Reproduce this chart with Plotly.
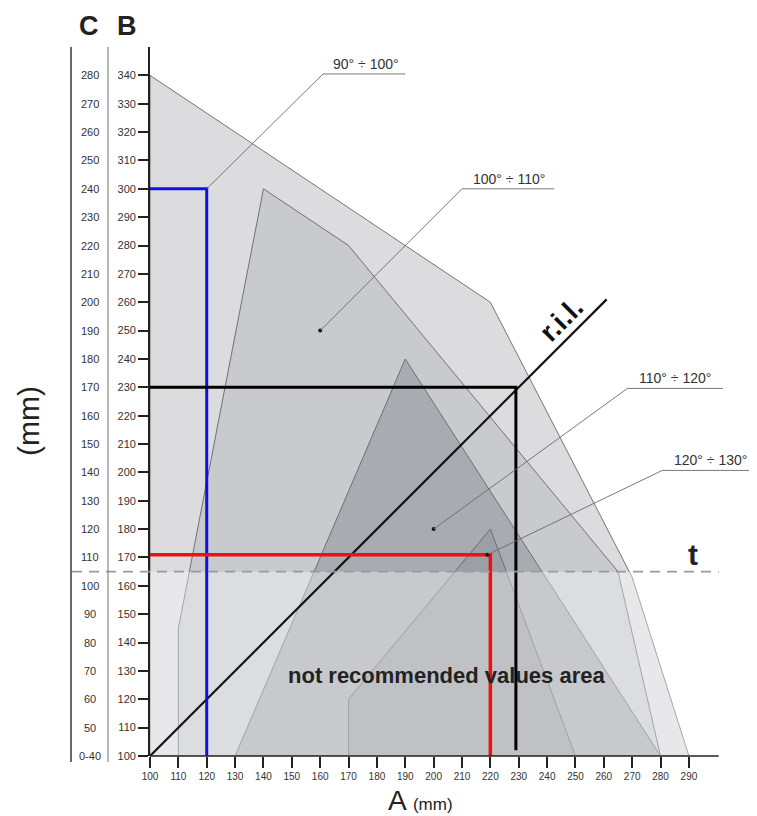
import plotly.graph_objects as go

# ---------------- data ----------------
A_ticks = list(range(100, 300, 10))
B_ticks = list(range(100, 350, 10))
C_labels = ["0-40"] + [str(v) for v in range(50, 290, 10)]

# zones (A, B)
z90_A = [100, 100, 220, 270, 290]
z90_B = [100, 340, 260, 163, 100]
z100_A = [110, 110, 140, 170, 265, 280]
z100_B = [100, 145, 300, 280, 165, 100]
z110_A = [130, 190, 280]
z110_B = [100, 240, 100]
z120_A = [170, 170, 220, 250]
z120_B = [100, 120, 180, 100]

zone_names = ["90° ÷ 100°", "100° ÷ 110°", "110° ÷ 120°", "120° ÷ 130°"]

t_B = 165
ril_A = [100, 261]
ril_B = [100, 261]

blue_A, blue_B = 120, 300
black_A, black_B = 229, 230
red_A, red_B = 220, 171

dot_A = [160, 200, 219]
dot_B = [250, 180, 171]

# ---------------- layout constants ----------------
OFF = 8                      # page body margin
W, H = 757 - OFF, 816 - OFF
PL, PR, PT, PB = 150, 757, 47, 756   # plot area in page pixels
ML, MR, MT, MB = PL - OFF, OFF + W - PR, PT - OFF, OFF + H - PB
XR = [100, 314]
YR = [100, 350]
FONT = "Liberation Sans, Arial, sans-serif"
pw = PR - PL
ph = PB - PT


def px_x(px):
    return (px - PL) / pw


def px_y(py):
    return (PB - py) / ph


def dx(a):
    return (a - XR[0]) / (XR[1] - XR[0])


def dy(b):
    return (b - YR[0]) / (YR[1] - YR[0])


fig = go.Figure()

fills = ["#dcdcdf", "#c9cace", "#a8abb1", "#9c9fa5"]
for (xa, yb), col in zip([(z90_A, z90_B), (z100_A, z100_B), (z110_A, z110_B), (z120_A, z120_B)], fills):
    fig.add_trace(go.Scatter(x=xa + [xa[0]], y=yb + [yb[0]], mode="lines", fill="toself",
                             fillcolor=col, line=dict(color="#666666", width=0.9),
                             hoverinfo="skip", showlegend=False))

# not recommended overlay (below t) - lightens the zones
fig.add_trace(go.Scatter(x=[XR[0], 300.5, 300.5, XR[0], XR[0]], y=[YR[0], YR[0], t_B, t_B, YR[0]],
                         mode="lines", fill="toself", fillcolor="rgba(255,255,255,0.36)",
                         line=dict(width=0), hoverinfo="skip", showlegend=False))

# r.i.l.
fig.add_trace(go.Scatter(x=ril_A, y=ril_B, mode="lines", line=dict(color="#111111", width=2.2),
                         hoverinfo="skip", showlegend=False))

# example reading lines
fig.add_trace(go.Scatter(x=[XR[0], blue_A, blue_A], y=[blue_B, blue_B, YR[0]], mode="lines",
                         line=dict(color="#1010e0", width=3), hoverinfo="skip", showlegend=False))
fig.add_trace(go.Scatter(x=[XR[0], black_A, black_A], y=[black_B, black_B, 102], mode="lines",
                         line=dict(color="#000000", width=3), hoverinfo="skip", showlegend=False))
fig.add_trace(go.Scatter(x=[XR[0], red_A, red_A], y=[red_B, red_B, YR[0]], mode="lines",
                         line=dict(color="#ee1111", width=3.5), hoverinfo="skip", showlegend=False))

fig.add_trace(go.Scatter(x=dot_A, y=dot_B, mode="markers", marker=dict(color="#111", size=4),
                         hoverinfo="skip", showlegend=False))

shapes = []
# x axis line
shapes.append(dict(type="line", xref="x", yref="paper", x0=100, x1=300.5, y0=0, y1=0,
                   line=dict(color="#222", width=1.6)))
# t dashed line
shapes.append(dict(type="line", xref="paper", yref="paper", x0=px_x(72), x1=dx(300.5),
                   y0=dy(t_B), y1=dy(t_B), line=dict(color="#9a9a9a", width=1.6, dash="10px,7px")))
# C column lines
shapes.append(dict(type="line", xref="paper", yref="paper", x0=px_x(71), x1=px_x(71),
                   y0=px_y(762), y1=1, line=dict(color="#444", width=1.6)))
shapes.append(dict(type="line", xref="paper", yref="paper", x0=px_x(108), x1=px_x(108),
                   y0=px_y(762), y1=1, line=dict(color="#888", width=1.2)))

# leaders: (start A,B) -> (elbow A,B) -> (end A), text centre A
leaders = [
    ((blue_A, blue_B), (161, 340.5), 190, 176),
    ((dot_A[0], dot_B[0]), (210, 300), 242.5, 226.5),
    ((dot_A[1], dot_B[1]), (268.3, 229.6), 302, 285),
    ((dot_A[2], dot_B[2]), (280.6, 200.7), 313.8, 297.5),
]
annotations = []
for (s, e, end, tx), name in zip(leaders, zone_names):
    shapes.append(dict(type="line", xref="x", yref="y", x0=s[0], y0=s[1], x1=e[0], y1=e[1],
                       line=dict(color="#6a6a6a", width=0.9)))
    shapes.append(dict(type="line", xref="x", yref="y", x0=e[0], y0=e[1], x1=end, y1=e[1],
                       line=dict(color="#6a6a6a", width=0.9)))
    annotations.append(dict(x=tx, y=e[1], xref="x", yref="y", text=name, showarrow=False,
                            xanchor="center", yanchor="bottom",
                            font=dict(family=FONT, size=14, color="#333")))

# C tick labels
for b, c in zip(B_ticks, C_labels):
    annotations.append(dict(x=px_x(89.5), y=b, xref="paper", yref="y", text=c, showarrow=False,
                            xanchor="center", yanchor="middle",
                            font=dict(family=FONT, size=11, color="#333")))


def label(x, y, text, size, angle=0, xref="paper", yref="paper", color="#222"):
    return dict(x=x, y=y, xref=xref, yref=yref, text=text, showarrow=False, textangle=angle,
                xanchor="center", yanchor="middle", font=dict(family=FONT, size=size, color=color))


annotations += [
    label(px_x(89), px_y(26), "<b>C</b>", 27),
    label(px_x(127), px_y(26), "<b>B</b>", 27),
    label(px_x(28), px_y(421), "(mm)", 30, angle=-90),
    label(px_x(420), px_y(801), "A <span style='font-size:17px'>(mm)</span>", 28),
    label(204.5, 128.5, "<b>not recommended values area</b>", 22, xref="x", yref="y"),
    label(291.6, 171, "<b>t</b>", 30, xref="x", yref="y"),
    label(245, 254, "<b>r.i.l.</b>", 28, angle=-45, xref="x", yref="y", color="#111"),
]

fig.update_layout(
    width=W, height=H,
    margin=dict(l=ML, r=MR, t=MT, b=MB),
    paper_bgcolor="white", plot_bgcolor="white",
    showlegend=False,
    shapes=shapes,
    annotations=annotations,
    xaxis=dict(range=XR, tickvals=A_ticks, ticktext=[str(v) for v in A_ticks],
               ticks="outside", ticklen=11, tickwidth=1.5, tickcolor="#222",
               showgrid=False, zeroline=False, showline=False,
               tickfont=dict(family=FONT, size=10, color="#333")),
    yaxis=dict(range=YR, tickvals=B_ticks, ticktext=[str(v) for v in B_ticks],
               ticks="outside", ticklen=10, tickwidth=1.5, tickcolor="#222",
               showgrid=False, zeroline=False, showline=True, linecolor="#222", linewidth=1.8,
               tickfont=dict(family=FONT, size=11, color="#333")),
)

fig.write_html("out.html")
